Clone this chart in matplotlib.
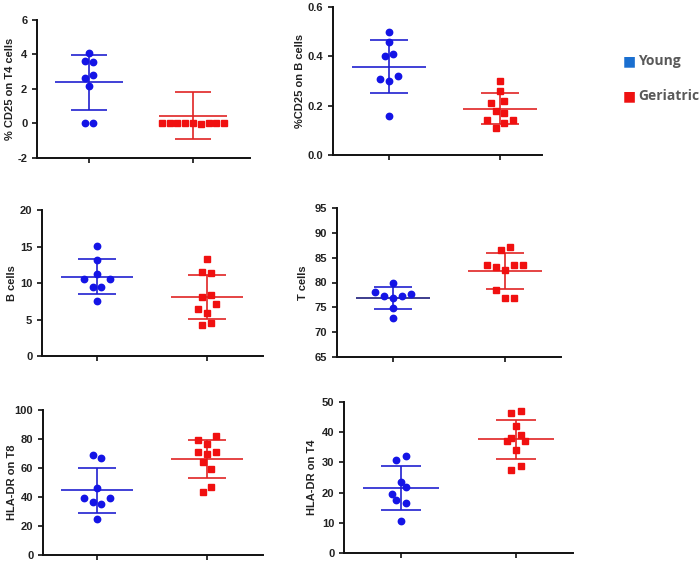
import matplotlib
matplotlib.use("Agg")
import matplotlib.pyplot as plt
import numpy as np

plt.rcParams["font.family"] = ["Liberation Sans", "DejaVu Sans"]

# ---------------------------------------------------------------------------
# Data
# ---------------------------------------------------------------------------
groups = ["Young", "Geriatric"]

ylabels = ["% CD25 on T4 cells", "%CD25 on B cells", "B cells",
           "T cells", "HLA-DR on T8", "HLA-DR on T4"]

young_values = [
    [4.1, 3.65, 3.55, 2.8, 2.65, 2.15, 0.0, 0.0],
    [0.50, 0.46, 0.41, 0.40, 0.32, 0.31, 0.30, 0.16],
    [15.1, 13.2, 11.3, 10.6, 10.5, 9.5, 9.5, 7.6],
    [80.0, 78.0, 77.6, 77.2, 77.2, 76.9, 74.8, 72.9],
    [69.0, 66.9, 46.2, 39.1, 39.1, 36.3, 34.9, 25.1],
    [32.2, 30.7, 23.4, 21.8, 19.7, 17.6, 16.4, 10.5],
]
geriatric_values = [
    [0.05, 0.02, 0.02, 0.0, 0.0, -0.02, 0.0, 0.02, 0.05],
    [0.30, 0.26, 0.22, 0.21, 0.18, 0.17, 0.14, 0.14, 0.13, 0.11],
    [13.3, 11.5, 11.4, 8.4, 8.1, 7.1, 6.5, 5.9, 4.5, 4.2],
    [87.05, 86.5, 83.6, 83.5, 83.5, 83.1, 82.5, 78.55, 76.9, 76.9],
    [82.1, 79.3, 76.8, 70.8, 70.8, 69.7, 63.9, 59.1, 46.9, 43.7],
    [46.9, 46.4, 42.0, 39.2, 38.1, 37.1, 37.1, 34.1, 28.9, 27.6],
]

# mean and SD as drawn on the figure
young_mean = [2.38, 0.358, 10.87, 76.87, 44.6, 21.5]
young_sd = [1.57, 0.108, 2.35, 2.17, 15.6, 7.2]
geriatric_mean = [0.46, 0.188, 8.08, 82.33, 66.2, 37.7]
geriatric_sd = [1.38, 0.062, 3.06, 3.6, 13.0, 6.45]

yticks = [
    [-2, 0, 2, 4, 6],
    [0.0, 0.2, 0.4, 0.6],
    [0, 5, 10, 15, 20],
    [65, 70, 75, 80, 85, 90, 95],
    [0, 20, 40, 60, 80, 100],
    [0, 10, 20, 30, 40, 50],
]
ytick_fmt = ["{:g}", "{:.1f}", "{:g}", "{:g}", "{:g}", "{:g}"]

# ---------------------------------------------------------------------------
# Layout: horizontal spread of the dots (GraphPad-style scatter), in units of
# the group spacing, and the axes boxes in pixels
# ---------------------------------------------------------------------------
young_spread = [
    [0, -0.04, 0.04, 0.04, -0.04, 0, -0.04, 0.04],
    [0, 0, 0.04, -0.04, 0.08, -0.08, 0, 0],
    [0, 0, 0, -0.12, 0.12, -0.04, 0.04, 0],
    [0, -0.16, 0.16, -0.08, 0.08, 0, 0, 0],
    [-0.04, 0.04, 0, -0.12, 0.12, -0.04, 0.04, 0],
    [0.045, -0.04, 0, 0.045, -0.08, -0.04, 0.045, 0],
]
geriatric_spread = [
    list(np.linspace(-0.3, 0.3, 9)),
    [0, 0, 0.04, -0.08, -0.04, 0.04, -0.12, 0.12, 0.04, -0.04],
    [0, -0.045, 0.04, 0.04, -0.045, 0.08, -0.08, 0, 0.04, -0.045],
    [0.045, -0.04, 0.16, -0.16, 0.08, -0.08, 0, -0.08, 0, 0.08],
    [0.08, -0.08, 0, -0.08, 0.08, 0, -0.04, 0.04, 0.04, -0.04],
    [0.04, -0.04, 0, 0.04, -0.04, -0.08, 0.08, 0, 0.04, -0.04],
]

W, H = 700, 563
# (left, right, top, bottom) pixels, first/second tick x pixel
boxes = [
    (37, 250, 20, 158, 89, 193),
    (333, 542, 7, 155, 389, 500),
    (42, 263, 210, 356, 97, 207),
    (337, 561, 208, 357, 393, 505),
    (43, 263, 410, 555, 97, 207),
    (344, 573, 402, 553, 401, 516),
]
label_x = [10, 300, 12, 303, 12, 312]

BLUE = "#1414e6"
BLUE_LINE = "#2020d0"
RED = "#f01010"
RED_LINE = "#e02424"
MEAN_W, CAP_W = 0.33, 0.17

fig = plt.figure(figsize=(W / 100, H / 100), dpi=100)

for i in range(6):
    left, right, top, bottom, t0, t1 = boxes[i]
    ax = fig.add_axes([left / W, 1 - bottom / H, (right - left) / W,
                       (bottom - top) / H])
    span = t1 - t0
    ax.set_xlim((left - t0) / span, (right - t0) / span)
    ax.set_ylim(yticks[i][0], yticks[i][-1])

    sets = [
        (0, young_values[i], young_spread[i], young_mean[i], young_sd[i],
         "o", BLUE, BLUE_LINE, 4.6),
        (1, geriatric_values[i], geriatric_spread[i], geriatric_mean[i],
         geriatric_sd[i], "s", RED, RED_LINE, 4.4),
    ]
    for x0, vals, spread, m, sd, mk, col, lcol, ms in sets:
        xs = x0 + np.asarray(spread)
        ax.plot(xs, vals, mk, color=col, ms=ms, mec=col, zorder=3,
                clip_on=False)
        mean_col = "#1c1c7a" if (i == 3 and x0 == 0) else lcol
        ax.hlines(m, x0 - MEAN_W, x0 + MEAN_W, color=mean_col, lw=1.2, zorder=2)
        ax.hlines([m - sd, m + sd], x0 - CAP_W, x0 + CAP_W, color=lcol,
                  lw=1.2, zorder=2)
        ax.vlines(x0, m - sd, m + sd, color=lcol, lw=1.2, zorder=2)

    ax.set_xticks([0, 1])
    ax.set_xticklabels([])
    ax.set_yticks(yticks[i])
    ax.set_yticklabels([ytick_fmt[i].format(t) for t in yticks[i]])
    for side in ("top", "right"):
        ax.spines[side].set_visible(False)
    for side in ("left", "bottom"):
        ax.spines[side].set_linewidth(1.4)
        ax.spines[side].set_color("#111111")
    ax.tick_params(axis="both", direction="out", width=1.2, length=3.5,
                   colors="#111111", labelsize=8)
    for lab in ax.get_yticklabels():
        lab.set_fontweight("bold")
        lab.set_color("#222222")
    fig.text(label_x[i] / W, 1 - (top + bottom) / 2 / H, ylabels[i],
             rotation=90, ha="center", va="center", fontsize=8,
             fontweight="bold", color="#222222")

# legend (drawn as text with coloured squares, like the original)
legend_y = [61, 96]
legend_col = ["#1a6fd0", "#ee1111"]
for name, y, c in zip(groups, legend_y, legend_col):
    fig.text(623 / W, 1 - y / H, "\u25a0", color=c, fontsize=10,
             ha="left", va="center", family=["DejaVu Sans"])
    fig.text(638 / W, 1 - y / H, name, color="#595959", fontsize=10,
             fontweight="bold", ha="left", va="center", family=["Open Sans"])

fig.savefig("out.png", dpi=100)
